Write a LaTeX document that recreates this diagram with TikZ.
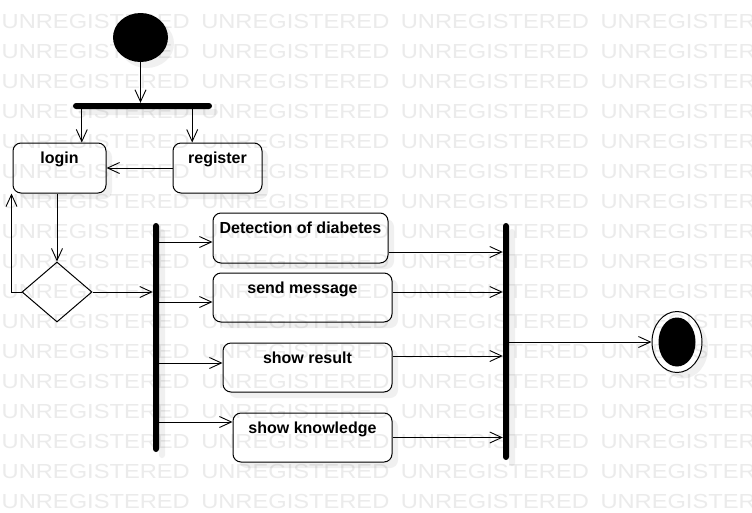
\documentclass[tikz,border=0pt]{standalone}
\usepackage{fontspec}
\setmainfont{Liberation Sans}
\newfontfamily\wmfont[FakeStretch=1.166]{Liberation Sans}
\usetikzlibrary{arrows.meta,shapes.geometric,shadows}
\tikzset{
  soft shadow/.style={drop shadow={shadow xshift=6pt, shadow yshift=-6pt, fill=black!6, opacity=1}},
  activity/.style={draw=black, line width=1pt, rounded corners=8pt, fill=white, inner sep=0pt, text height=20pt, text depth=30pt, minimum height=50pt, font=\bfseries\fontsize{16}{19}\selectfont, soft shadow},
  start node/.style={ellipse, fill=black, minimum width=55pt, minimum height=49pt, inner sep=0pt, soft shadow},
  end node/.style={ellipse, draw=black, fill=white, line width=1pt, minimum width=50pt, minimum height=61pt, inner sep=0pt, soft shadow},
  end dot/.style={ellipse, fill=black, minimum width=37pt, minimum height=49pt, inner sep=0pt},
  sync bar/.style={fill=black, rounded corners=3pt, inner sep=0pt, soft shadow},
  decision/.style={diamond, draw=black, fill=white, line width=1pt, minimum width=70pt, minimum height=60pt, inner sep=0pt},
  link/.style={line width=0.9pt, arrows={-Straight Barb[length=12pt,width=11pt]}},
  watermark/.style={anchor=base west, inner sep=0pt, text=black!8, font=\wmfont\fontsize{20.3}{24}\selectfont}
}
\begin{document}
\begin{tikzpicture}[x=1pt,y=-1pt]
  \fill[white] (0,0) rectangle (752,512);
  \useasboundingbox (0,0) rectangle (752,512);

  \node[start node] at (140.5,37.5) (start) {};
  \node[sync bar, minimum width=139pt, minimum height=6pt] at (142.5,106) (topbar) {};

  \node[activity, minimum width=93pt] at (59.5,168) (login) {login};
  \node[activity, minimum width=89pt] at (217.5,168) (register) {register};
  \node[decision] at (57,292) (dec) {};

  \node[sync bar, minimum width=6pt, minimum height=229pt] at (156,337.5) (fork) {};
  \node[activity, minimum width=175pt] at (300.5,238) (detect) {Detection of diabetes};
  \node[activity, minimum width=179pt, minimum height=49pt, text depth=29pt] at (302.5,297.5) (send) {send message};
  \node[activity, minimum width=169pt, minimum height=49pt, text depth=29pt] at (307.5,367.5) (result) {show result};
  \node[activity, minimum width=159pt, minimum height=49pt, text depth=29pt] at (312.5,437.5) (knowledge) {show knowledge};
  \node[sync bar, minimum width=6pt, minimum height=237pt] at (506,341.5) (join) {};

  \node[end node] at (677,342) (final) {};
  \node[end dot] at (final) (final dot) {};

  \draw[link] (start) -- (start |- topbar.north);
  \draw[link] ([xshift=9pt]topbar.south west) -- ([xshift=9pt]topbar.south west |- login.north);
  \draw[link] ([xshift=-20pt]topbar.south east) -- ([xshift=-20pt]topbar.south east |- register.north);
  \draw[link] (register) -- (login);
  \draw[link] (login.south -| dec) -- (dec.north);
  \draw[link] (dec.west) -| ([xshift=-1pt]login.south west);
  \draw[link] (dec) -- (dec -| fork.west);

  \draw[link] ([yshift=-4pt]detect.west -| fork.east) -- ([yshift=-4pt]detect.west);
  \draw[link] ([yshift=-4.5pt]send.west -| fork.east) -- ([yshift=-4.5pt]send.west);
  \draw[link] ([yshift=4.5pt]result.west -| fork.east) -- ([yshift=4.5pt]result.west);
  \draw[link] ([yshift=15.5pt]knowledge.west -| fork.east) -- ([yshift=15.5pt]knowledge.west);

  \draw[link] ([yshift=-14pt]detect.east) -- ([yshift=-14pt]detect.east -| join.west);
  \draw[link] ([yshift=5.5pt]send.east) -- ([yshift=5.5pt]send.east -| join.west);
  \draw[link] ([yshift=11.5pt]result.east) -- ([yshift=11.5pt]result.east -| join.west);
  \draw[link] (knowledge.east) -- (knowledge.east -| join.west);
  \draw[link] (join.east |- final) -- (final);

  % watermark
  \begin{scope}[blend mode=multiply]
    \foreach \row in {0,...,16}
      \foreach \col in {0,...,3}
        \node[watermark] at (1.5+199.6*\col, 28+30*\row) {UNREGISTERED};
  \end{scope}
\end{tikzpicture}
\end{document}
